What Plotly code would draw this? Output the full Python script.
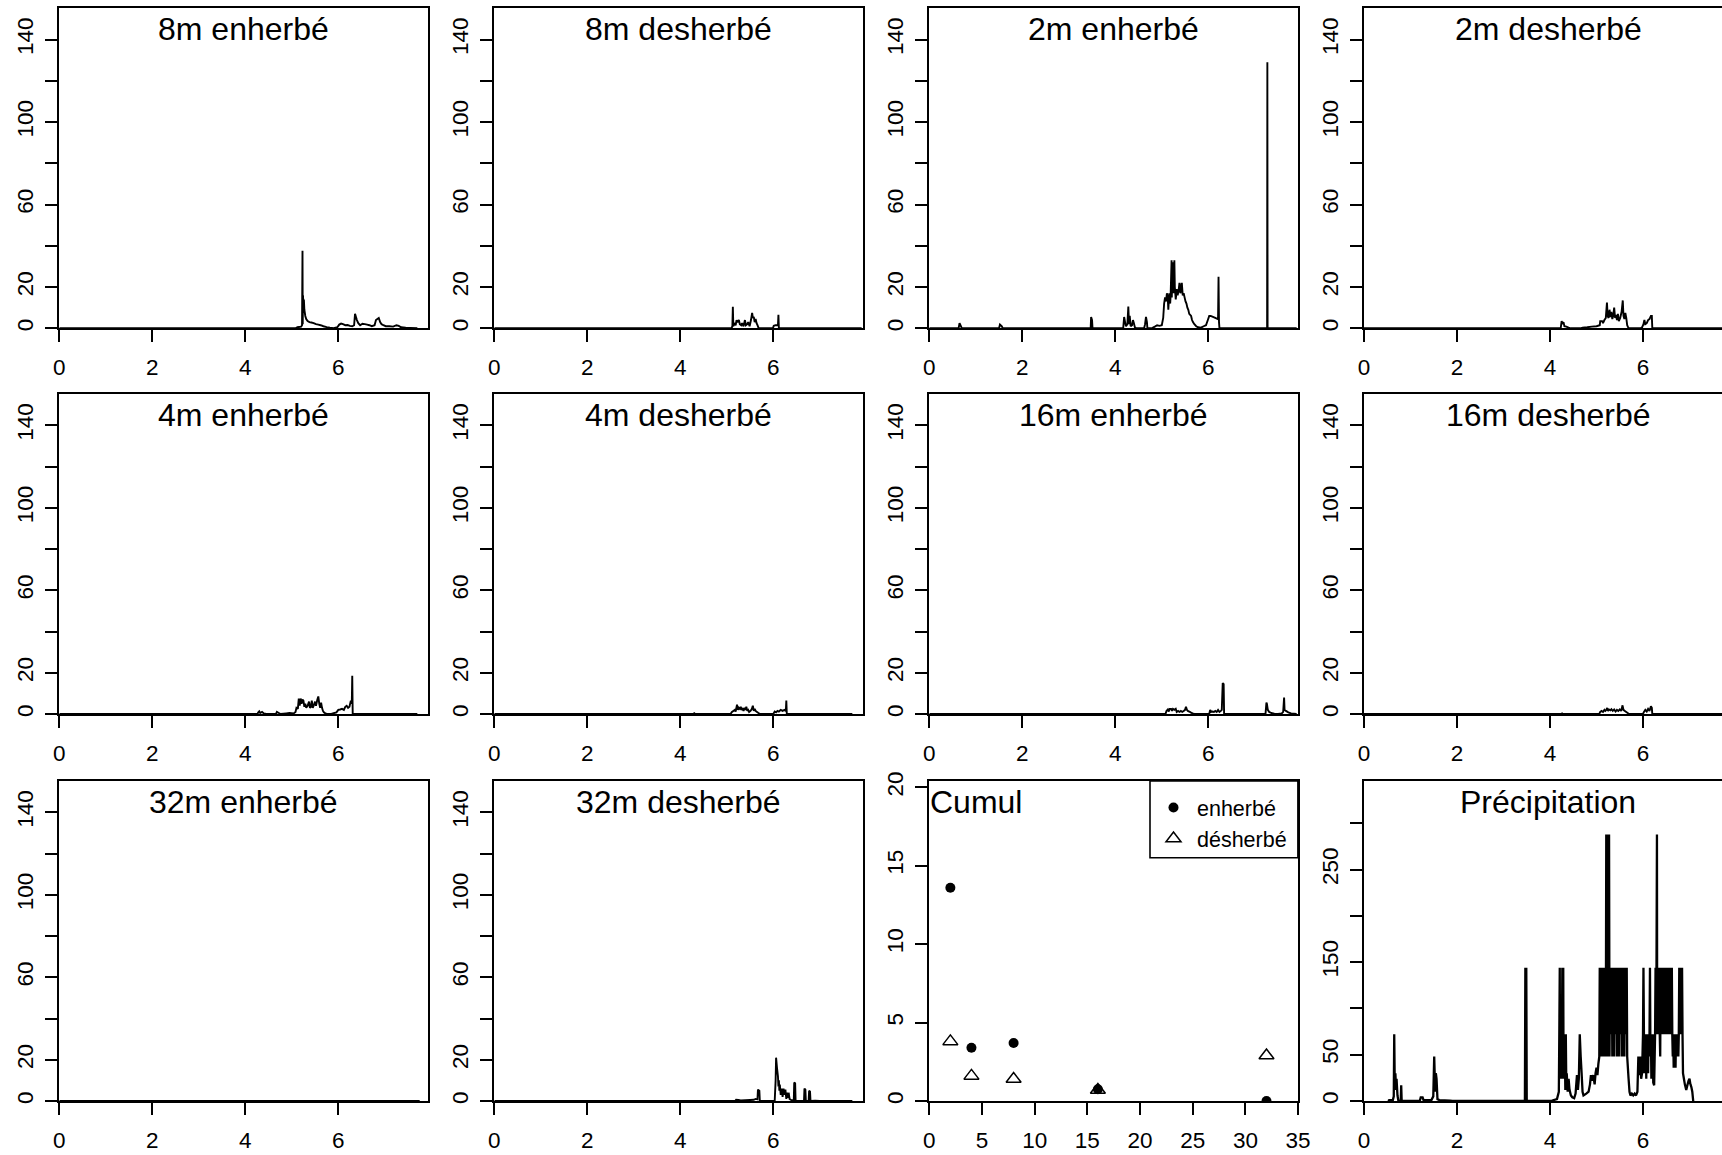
import plotly.graph_objects as go

# ---------------- data (time in days, concentration) ----------------
t_8m_enh = [0, 5.08, 5.12, 5.20, 5.22, 5.23, 5.235, 5.24, 5.25, 5.26, 5.27, 5.29, 5.31, 5.34, 5.38, 5.42, 5.47, 5.52, 5.57, 5.62, 5.68, 5.75, 5.82, 5.90, 5.98, 6.02, 6.06, 6.10, 6.15, 6.20, 6.25, 6.30, 6.34, 6.36, 6.38, 6.40, 6.43, 6.47, 6.52, 6.57, 6.62, 6.67, 6.72, 6.78, 6.81, 6.84, 6.87, 6.90, 6.93, 6.97, 7.02, 7.10, 7.18, 7.25, 7.30, 7.35, 7.45, 7.55, 7.70]
v_8m_enh = [0, 0, 0.5, 0.8, 1.5, 37.6, 2, 16, 12, 14, 9, 6, 4.5, 3.5, 3, 2.8, 2.5, 2, 1.8, 1.5, 1, 0.6, 0.3, 0.1, 0.5, 1.8, 2.3, 2, 1.5, 1.6, 1.2, 1, 1.5, 7, 5.5, 4, 2.5, 1.5, 2.2, 2, 1.8, 1.5, 1, 1.5, 4, 4.5, 5, 3, 2, 1.5, 1, 1, 0.8, 1.5, 1.2, 0.5, 0.3, 0.2, 0]

t_8m_des = [0, 5.10, 5.12, 5.13, 5.14, 5.16, 5.19, 5.21, 5.23, 5.26, 5.28, 5.31, 5.33, 5.36, 5.39, 5.41, 5.44, 5.46, 5.49, 5.52, 5.545, 5.56, 5.58, 5.60, 5.62, 5.64, 5.66, 5.68, 5.70, 5.99, 6.01, 6.05, 6.08, 6.10, 6.11, 6.12, 7.90]
v_8m_des = [0, 0, 1, 10.5, 1, 2.5, 1.5, 4, 3, 4, 2, 1.5, 2.5, 1, 4, 1.5, 2, 3, 1, 4, 7.5, 5, 5.5, 3, 4.5, 2.5, 1.5, 0.3, 0, 0, 1.2, 1.5, 1.5, 1.5, 6.5, 0, 0]

t_2m_enh = [0, 0.63, 0.65, 0.67, 0.70, 1.50, 1.52, 1.56, 1.58, 3.47, 3.48, 3.50, 3.51, 4.17, 4.19, 4.21, 4.23, 4.26, 4.28, 4.295, 4.31, 4.33, 4.36, 4.38, 4.40, 4.42, 4.45, 4.62, 4.64, 4.66, 4.68, 4.69, 4.80, 4.85, 4.90, 4.95, 5.00, 5.03, 5.05, 5.07, 5.09, 5.11, 5.13, 5.14, 5.16, 5.18, 5.19, 5.21, 5.215, 5.23, 5.25, 5.27, 5.28, 5.30, 5.32, 5.34, 5.36, 5.38, 5.40, 5.43, 5.45, 5.47, 5.49, 5.51, 5.53, 5.55, 5.57, 5.59, 5.61, 5.63, 5.65, 5.67, 5.70, 5.74, 5.78, 5.84, 5.90, 5.95, 5.99, 6.02, 6.05, 6.10, 6.15, 6.20, 6.21, 6.22, 6.23, 6.24, 7.265, 7.27, 7.275, 7.90]
v_2m_enh = [0, 0, 2.5, 1.5, 0, 0, 1.8, 1, 0, 0, 5.5, 4, 0, 0, 5.5, 3, 1, 2, 10.5, 2, 6, 1, 1.5, 4, 2.5, 0.5, 0, 0, 2, 5.5, 3, 0, 0.2, 0.8, 1.5, 1.2, 1.5, 5, 12, 15, 13, 17, 14, 9, 17, 12, 16, 33, 15, 32, 17, 33, 20, 14, 19, 16, 18, 22, 17, 22, 16, 17, 15, 13, 12, 10, 9, 7, 6.5, 6, 4, 3, 2, 1, 0.5, 0.3, 1, 1.5, 4, 6, 6, 5.5, 5, 4.5, 5, 25, 3, 0, 0, 129, 0, 0]

t_2m_des = [0, 4.23, 4.25, 4.27, 4.29, 4.31, 4.35, 4.40, 4.45, 4.65, 4.70, 4.80, 4.90, 5.00, 5.07, 5.08, 5.12, 5.14, 5.17, 5.20, 5.225, 5.24, 5.26, 5.28, 5.30, 5.32, 5.34, 5.36, 5.38, 5.40, 5.42, 5.44, 5.46, 5.48, 5.51, 5.54, 5.565, 5.58, 5.60, 5.62, 5.64, 5.66, 5.68, 5.70, 5.95, 5.98, 6.01, 6.03, 6.05, 6.08, 6.11, 6.14, 6.17, 6.19, 6.20, 7.70]
v_2m_des = [0, 0, 3.5, 2.5, 3, 1, 0.8, 0.3, 0, 0, 0.3, 0.5, 0.8, 1, 1.5, 3.5, 3.5, 2.5, 4, 5, 12.5, 6, 5, 9, 5.5, 8, 4.5, 6, 10, 5, 6.5, 4, 7, 3.5, 5, 8, 13.5, 6, 4.5, 7.5, 5, 1.5, 0.5, 0, 0, 0.5, 2, 4, 2, 2.5, 4, 4.5, 6, 6, 0, 0]

t_4m_enh = [0, 4.26, 4.28, 4.30, 4.32, 4.36, 4.40, 4.45, 4.66, 4.68, 4.72, 4.76, 4.88, 4.95, 5.04, 5.08, 5.10, 5.13, 5.15, 5.17, 5.19, 5.21, 5.23, 5.25, 5.27, 5.29, 5.31, 5.34, 5.37, 5.39, 5.41, 5.43, 5.45, 5.47, 5.50, 5.52, 5.55, 5.57, 5.59, 5.61, 5.63, 5.65, 5.67, 5.69, 5.72, 5.76, 5.85, 5.90, 5.96, 6.00, 6.04, 6.08, 6.12, 6.15, 6.18, 6.21, 6.24, 6.27, 6.29, 6.30, 6.31, 7.70]
v_4m_enh = [0, 0, 0.8, 1.3, 0.5, 1, 0.3, 0, 0, 1, 0.5, 0, 0.3, 0.5, 0.3, 1, 3, 2.5, 7.5, 4, 7.5, 5, 7, 6.5, 3.5, 5, 3, 4, 6, 3, 3.5, 6.5, 3, 4, 6, 4, 7, 8.5, 5, 3, 5.5, 3, 1.5, 0.8, 0.3, 0, 0, 0.4, 0.8, 2, 2.2, 2.5, 2, 3.5, 4, 3, 3.5, 6.5, 5, 18.5, 0, 0]

t_4m_des = [0, 4.28, 4.30, 4.32, 5.08, 5.11, 5.14, 5.17, 5.19, 5.22, 5.24, 5.26, 5.28, 5.30, 5.32, 5.34, 5.36, 5.38, 5.40, 5.42, 5.44, 5.46, 5.48, 5.51, 5.54, 5.56, 5.58, 5.60, 5.62, 5.65, 5.68, 5.72, 6.00, 6.03, 6.06, 6.09, 6.12, 6.16, 6.20, 6.24, 6.27, 6.28, 6.29, 7.70]
v_4m_des = [0, 0, 0.4, 0, 0, 1, 1.5, 2, 1.2, 4.5, 2, 3, 2.5, 3.5, 2, 2.5, 1.5, 3, 2, 3.5, 1.5, 2, 1, 1.5, 2.5, 4, 1.5, 2.5, 1.5, 1, 0.5, 0, 0, 1.2, 0.8, 1.5, 1.2, 2, 1.5, 2, 1.5, 6.5, 0, 0]

t_16m_enh = [0, 5.08, 5.10, 5.13, 5.15, 5.17, 5.20, 5.22, 5.24, 5.27, 5.30, 5.32, 5.35, 5.38, 5.41, 5.44, 5.47, 5.50, 5.52, 5.54, 5.56, 5.59, 5.62, 5.66, 5.70, 6.02, 6.04, 6.06, 6.09, 6.12, 6.15, 6.18, 6.21, 6.24, 6.27, 6.29, 6.31, 6.33, 6.34, 7.23, 7.25, 7.26, 7.28, 7.31, 7.35, 7.42, 7.50, 7.58, 7.61, 7.63, 7.64, 7.67, 7.72, 7.78, 7.90]
v_16m_enh = [0, 0, 1.5, 2.2, 1.2, 2.5, 2.5, 1.5, 2.5, 2, 2.5, 1, 1.5, 1, 1.5, 1, 1.5, 2, 3.5, 2, 1.5, 1.2, 0.8, 0.3, 0, 0, 2, 1, 1.2, 1, 1.5, 1, 2, 1, 1.5, 2, 15, 14.5, 0, 0, 5.5, 5, 2, 1, 0.5, 0.2, 0, 0.3, 1, 8, 2, 1.5, 0.8, 0.3, 0]

t_16m_des = [0, 4.24, 4.26, 4.28, 5.06, 5.08, 5.11, 5.14, 5.17, 5.19, 5.21, 5.23, 5.25, 5.27, 5.30, 5.32, 5.35, 5.38, 5.41, 5.44, 5.47, 5.50, 5.53, 5.56, 5.58, 5.61, 5.64, 5.67, 5.70, 6.00, 6.02, 6.05, 6.08, 6.11, 6.14, 6.17, 6.19, 6.20, 7.70]
v_16m_des = [0, 0, 0.3, 0, 0, 1, 1.5, 1, 2, 1.5, 2, 2.9, 1.5, 2.2, 1.8, 2.3, 1.5, 2.2, 1.2, 2, 1.5, 2.2, 1.5, 4.2, 2, 1.5, 1, 0.5, 0, 0, 1, 2, 1.2, 2.5, 1.5, 3.7, 3, 0, 0]

t_32m_enh = [0, 7.75]
v_32m_enh = [0, 0]

t_32m_des = [0, 4.30, 5.18, 5.20, 5.25, 5.30, 5.40, 5.50, 5.58, 5.62, 5.66, 5.67, 5.70, 5.71, 6.03, 6.05, 6.06, 6.08, 6.10, 6.11, 6.12, 6.13, 6.14, 6.16, 6.18, 6.20, 6.22, 6.24, 6.26, 6.28, 6.30, 6.32, 6.33, 6.35, 6.38, 6.42, 6.44, 6.45, 6.47, 6.48, 6.66, 6.67, 6.69, 6.70, 6.76, 6.77, 6.79, 6.80, 6.90, 7.00, 7.70]
v_32m_des = [0, 0, 0, 0.6, 0.5, 0.3, 0.4, 0.5, 0.6, 1, 0.8, 5.5, 5, 0, 0, 10, 21, 16, 12, 7, 10, 5, 8, 3, 6, 2, 6, 3, 5.5, 1, 4, 1.5, 4, 1, 0.5, 0.3, 0, 9, 8.5, 0, 0, 6, 5.5, 0, 0, 5, 4.5, 0, 0.2, 0, 0]

t_pluie = [0.52, 0.54, 0.62, 0.64, 0.65, 0.66, 0.675, 0.69, 0.70, 0.72, 0.74, 0.79, 0.80, 0.81, 0.85,
           1.20, 1.22, 1.26, 1.28, 1.45, 1.49, 1.51, 1.53, 1.545, 1.56, 1.58, 1.62, 1.85, 1.90,
           3.46, 3.47, 3.48, 3.49, 3.50,
           4.02, 4.08, 4.15, 4.19, 4.20, 4.21, 4.215, 4.225, 4.235, 4.245, 4.255, 4.265, 4.27, 4.28, 4.285, 4.29, 4.30, 4.31, 4.32, 4.33, 4.34, 4.35, 4.36, 4.38, 4.40, 4.42, 4.45, 4.48, 4.52, 4.55, 4.58, 4.60, 4.62, 4.64, 4.66, 4.68, 4.70, 4.72, 4.78, 4.83, 4.86, 4.88, 4.90, 4.93, 4.96, 4.98, 5.00, 5.02, 5.04, 5.06,
           5.07, 5.08, 5.09, 5.10, 5.11, 5.12, 5.13, 5.14, 5.15, 5.16, 5.17, 5.18, 5.19, 5.20, 5.21, 5.22, 5.23, 5.24, 5.25, 5.26, 5.27, 5.28, 5.29, 5.30, 5.31, 5.32, 5.33, 5.34, 5.35, 5.36, 5.37, 5.38, 5.39, 5.40, 5.41, 5.42, 5.43, 5.44, 5.45, 5.46, 5.47, 5.48, 5.49, 5.50, 5.51, 5.52, 5.53, 5.54, 5.55, 5.56, 5.57, 5.58, 5.59, 5.60, 5.61, 5.62, 5.63, 5.64, 5.65, 5.66,
           5.67, 5.69, 5.71, 5.73, 5.76, 5.79, 5.82, 5.85, 5.88, 5.90, 5.92, 5.94, 5.96, 5.98, 6.00, 6.01, 6.02, 6.03, 6.04, 6.05, 6.06, 6.07, 6.08, 6.09, 6.10, 6.11, 6.12, 6.13, 6.14, 6.15, 6.16, 6.17, 6.18, 6.19, 6.20, 6.21, 6.22, 6.24,
           6.26, 6.27, 6.28, 6.29, 6.30, 6.305, 6.31, 6.32, 6.33, 6.34, 6.35, 6.36, 6.37, 6.38, 6.39, 6.40, 6.41, 6.42, 6.43, 6.44, 6.45, 6.46, 6.47, 6.48, 6.49, 6.50, 6.51, 6.52, 6.53, 6.54, 6.55, 6.56, 6.57, 6.58, 6.59, 6.60, 6.61, 6.62, 6.63,
           6.64, 6.65, 6.66, 6.67, 6.68, 6.69, 6.70, 6.71, 6.72, 6.73, 6.74, 6.75, 6.76, 6.77, 6.78, 6.79, 6.80, 6.81, 6.82, 6.83, 6.84, 6.85, 6.86, 6.88, 6.90, 6.93, 6.96, 6.98, 7.00, 7.02, 7.04, 7.06, 7.08]
v_pluie = [0, 1, 1, 5, 72, 24, 30, 12, 24, 6, 0, 0, 17, 0, 0,
           0, 4, 4, 1, 1, 5, 48, 10, 30, 24, 2, 1, 0.5, 0,
           0, 144, 24, 144, 0,
           0, 1, 2, 10, 72, 144, 48, 72, 24, 72, 48, 144, 24, 72, 144, 48, 72, 24, 48, 12, 72, 20, 30, 10, 24, 12, 6, 4, 3, 8, 28, 12, 24, 72, 48, 30, 10, 6, 8, 10, 18, 28, 22, 28, 18, 30, 36, 28, 40, 48,
           144, 48, 144, 48, 144, 48, 144, 48, 144, 48, 144, 72, 144, 48, 288, 48, 288, 48, 288, 48, 288, 48, 144, 72, 144, 72, 144, 48, 144, 48, 144, 48, 144, 72, 144, 72, 144, 48, 144, 48, 144, 48, 144, 72, 144, 72, 144, 48, 144, 48, 144, 48, 144, 48, 144, 72, 144, 72, 144, 48,
           40, 24, 10, 6, 8, 6, 8, 6, 10, 48, 28, 48, 24, 30, 72, 144, 72, 30, 72, 48, 72, 24, 72, 48, 72, 30, 72, 48, 72, 144, 48, 72, 24, 72, 30, 72, 20, 17,
           72, 144, 72, 144, 288, 72, 144, 72, 144, 72, 144, 72, 48, 144, 72, 144, 72, 144, 72, 144, 72, 144, 72, 144, 72, 144, 72, 144, 72, 144, 72, 144, 72, 144, 72, 144, 72, 144, 72,
           48, 72, 36, 72, 48, 72, 36, 72, 48, 72, 48, 72, 48, 72, 144, 72, 144, 72, 144, 72, 144, 72, 30, 24, 18, 12, 18, 22, 24, 18, 15, 10, 0]

# cumulative losses versus strip width
largeur = [2, 4, 8, 16, 32]
cumul_enherbe = [13.6, 3.4, 3.7, 0.75, 0.0]
cumul_desherbe = [3.8, 1.6, 1.4, 0.7, 2.9]

panel_titles = ["8m enherbé", "8m desherbé", "2m enherbé", "2m desherbé",
                "4m enherbé", "4m desherbé", "16m enherbé", "16m desherbé",
                "32m enherbé", "32m desherbé", "Cumul", "Précipitation"]
series = [(t_8m_enh, v_8m_enh), (t_8m_des, v_8m_des), (t_2m_enh, v_2m_enh), (t_2m_des, v_2m_des),
          (t_4m_enh, v_4m_enh), (t_4m_des, v_4m_des), (t_16m_enh, v_16m_enh), (t_16m_des, v_16m_des),
          (t_32m_enh, v_32m_enh), (t_32m_des, v_32m_des), None, (t_pluie, v_pluie)]

conc_ticks = [0, 20, 40, 60, 80, 100, 120, 140]
conc_labels = ["0", "20", "", "60", "", "100", "", "140"]
day_ticks = [0, 2, 4, 6]
cumul_xticks = [0, 5, 10, 15, 20, 25, 30, 35]
cumul_yticks = [0, 5, 10, 15, 20]
pluie_ticks = [0, 50, 100, 150, 200, 250, 300]
pluie_labels = ["0", "50", "", "150", "", "250", ""]

# ---------------- layout geometry (pixels) ----------------
W, H = 1722, 1155
col_left = [59.3, 494.3, 929.3, 1364.0]
row_top = [8.3, 394.0, 781.0]
panel_w = 368.8
panel_h = 320.0
px_per_day = 46.5
FONT = "Liberation Sans, Arial, Helvetica, sans-serif"
LW_BOX = 2.0
LW_DATA = 1.9
LW_PLUIE = 2.3
TICK_SIZE = 22.5

fig = go.Figure()
layout = dict(template="none", width=W, height=H, autosize=False,
              margin=dict(l=0, r=0, t=0, b=0, pad=0, autoexpand=False),
              paper_bgcolor="white", plot_bgcolor="white",
              font=dict(family=FONT, color="black", size=21),
              showlegend=True,
              legend=dict(x=1150.0 / W, xanchor="left", y=1 - 787.0 / H, yanchor="top",
                          borderwidth=0, bgcolor="rgba(0,0,0,0)",
                          font=dict(family=FONT, size=21.5, color="black"),
                          itemwidth=37, tracegroupgap=0),
              annotations=[],
              shapes=[dict(type="rect", xref="paper", yref="paper",
                           x0=1150.0 / W, x1=1297.9 / W, y0=1 - 857.7 / H, y1=1 - 781.0 / H,
                           line=dict(color="black", width=1.6), fillcolor="rgba(0,0,0,0)",
                           layer="above")])

for i in range(12):
    r, c = divmod(i, 4)
    n = i + 1
    xname = "xaxis" if n == 1 else f"xaxis{n}"
    yname = "yaxis" if n == 1 else f"yaxis{n}"
    xref = "x" if n == 1 else f"x{n}"
    yref = "y" if n == 1 else f"y{n}"
    left = col_left[c]
    right = min(left + panel_w, W)
    top = row_top[r]
    bottom = top + panel_h
    frac = (right - left) / panel_w

    if i == 10:
        xrange = [0, 35 * frac]
        xt, xtt = cumul_xticks, [str(v) for v in cumul_xticks]
        yrange = [0, 20.4]
        yt, ytt = cumul_yticks, [str(v) for v in cumul_yticks]
    elif i == 11:
        xrange = [0, (right - left) / px_per_day]
        xt, xtt = day_ticks, [str(v) for v in day_ticks]
        yrange = [0, 345.7]
        yt, ytt = pluie_ticks, pluie_labels
    else:
        xrange = [0, (right - left) / px_per_day]
        xt, xtt = day_ticks, [str(v) for v in day_ticks]
        yrange = [0, 155.2]
        yt, ytt = conc_ticks, conc_labels

    common = dict(showgrid=False, zeroline=False, showline=True, linecolor="black",
                  linewidth=LW_BOX, ticks="outside", ticklen=12, tickwidth=LW_BOX,
                  tickcolor="black", tickfont=dict(family=FONT, size=TICK_SIZE, color="black"),
                  layer="above traces", fixedrange=True, automargin=False)
    layout[xname] = dict(domain=[left / W, right / W], range=xrange, anchor=yref,
                         tickmode="array", tickvals=xt, ticktext=xtt, mirror=True,
                         ticklabelstandoff=6, **common)
    layout[yname] = dict(domain=[1 - bottom / H, 1 - top / H], range=yrange, anchor=xref,
                         tickmode="array", tickvals=yt, ticktext=ytt, tickangle=-90,
                         mirror=(c != 3), ticklabelstandoff=3, **common)

    # titles
    if i == 10:
        layout["annotations"].append(dict(text=panel_titles[i], xref="paper", yref="paper",
                                          x=(left - 1.0) / W, y=1 - (top + 21.0) / H,
                                          xanchor="left", yanchor="middle", showarrow=False,
                                          font=dict(family=FONT, size=32, color="black")))
    else:
        layout["annotations"].append(dict(text=panel_titles[i], xref="paper", yref="paper",
                                          x=(left + panel_w / 2) / W, y=1 - (top + 21.0) / H,
                                          xanchor="center", yanchor="middle", showarrow=False,
                                          font=dict(family=FONT, size=32, color="black")))

    if series[i] is not None:
        tt, vv = series[i]
        lw = LW_PLUIE if i == 11 else LW_DATA
        fig.add_trace(go.Scatter(x=tt, y=vv, mode="lines", xaxis=xref, yaxis=yref,
                                 line=dict(color="black", width=lw, simplify=False),
                                 showlegend=False, hoverinfo="skip"))
    else:
        fig.add_trace(go.Scatter(x=largeur, y=cumul_enherbe, mode="markers", xaxis=xref, yaxis=yref,
                                 name="enherbé", marker=dict(symbol="circle", size=10, color="black"),
                                 showlegend=True))
        fig.add_trace(go.Scatter(x=largeur, y=cumul_desherbe, mode="markers", xaxis=xref, yaxis=yref,
                                 name="désherbé",
                                 marker=dict(symbol="triangle-up-open", size=13, color="black",
                                             line=dict(width=1.5, color="black")),
                                 showlegend=True))

fig.update_layout(**layout)
fig.write_html("out.html", include_plotlyjs=True,
               config={"displayModeBar": False, "responsive": False},
               post_script="document.body.style.margin='0';document.body.style.overflow='hidden';")
